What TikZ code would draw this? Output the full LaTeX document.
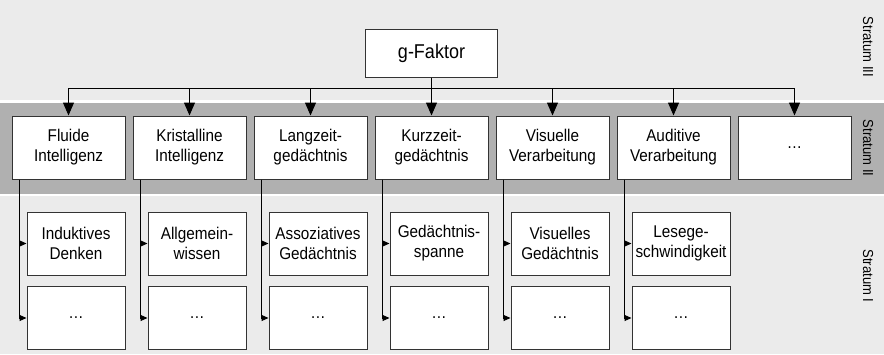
\documentclass[tikz,border=0pt]{standalone}
\usepackage{fontspec}
\setmainfont{Liberation Sans}[FakeStretch=0.9]
\usetikzlibrary{arrows.meta}

\definecolor{hellgrau}{HTML}{EBEBEB}
\definecolor{dunkelgrau}{HTML}{B0B0B0}

\tikzset{
  kasten/.style={draw=black!80, line width=1pt, fill=white, align=center,
    inner sep=0pt, font=\fontsize{17}{20}\selectfont},
  breitkasten/.style={kasten, minimum width=113pt, minimum height=63pt},
  schmalkasten/.style={kasten, minimum width=98pt, minimum height=63pt},
  grosspfeil/.style={line width=1pt, -{Triangle[width=11pt,length=13pt]}},
  kleinpfeil/.style={line width=1pt, -{Triangle[width=6pt,length=7pt]}},
  stratum/.style={rotate=-90, font=\fontsize{14.5}{16}\selectfont}
}

\begin{document}
\begin{tikzpicture}[x=1pt, y=-1pt]
        \def \p {121}

        \useasboundingbox (0,0) rectangle (884,354);

        % Hintergrund
        \fill[hellgrau] (0,0) rectangle (884,354);
        \fill[white] (0,100) rectangle (884,196);
        \fill[dunkelgrau] (0,102.5) rectangle (884,193.5);

        \node[stratum] (s3) at (868,47) {Stratum III};
        \node[stratum] (s2) at (868,148) {Stratum II};
        \node[stratum] (s1) at (868,276) {Stratum I};

        % Stratum III
        \node[kasten, font=\fontsize{20}{24}\selectfont, minimum width=132pt, minimum height=48pt] (gf) at (431.5,53) {g-Faktor};

        % Stratum II
        \node[breitkasten] (fi) at (68.5+0*\p,147.5) {Fluide\\Intelligenz};
        \node[breitkasten] (ki) at (68.5+1*\p,147.5) {Kristalline\\Intelligenz};
        \node[breitkasten] (lz) at (68.5+2*\p,147.5) {Langzeit-\\gedächtnis};
        \node[breitkasten] (kz) at (68.5+3*\p,147.5) {Kurzzeit-\\gedächtnis};
        \node[breitkasten] (vv) at (68.5+4*\p,147.5) {Visuelle\\Verarbeitung};
        \node[breitkasten] (av) at (68.5+5*\p,147.5) {Auditive\\Verarbeitung};
        \node[breitkasten] (wz) at (68.5+6*\p,147.5) {…};

        % Stratum I
        \node[schmalkasten] (id) at (76+0*\p,243.5) {Induktives\\Denken};
        \node[schmalkasten] (aw) at (76+1*\p,243.5) {Allgemein-\\wissen};
        \node[schmalkasten] (ag) at (76+2*\p,243.5) {Assoziatives\\Gedächtnis};
        \node[schmalkasten] (gs) at (76+3*\p,243.5) {Gedächtnis-\\spanne};
        \node[schmalkasten] (vg) at (76+4*\p,243.5) {Visuelles\\Gedächtnis};
        \node[schmalkasten] (lg) at (76+5*\p,243.5) {Lesege-\\schwindigkeit};

        \node[schmalkasten] (d1) at (76+0*\p,318) {…};
        \node[schmalkasten] (d2) at (76+1*\p,318) {…};
        \node[schmalkasten] (d3) at (76+2*\p,318) {…};
        \node[schmalkasten] (d4) at (76+3*\p,318) {…};
        \node[schmalkasten] (d5) at (76+4*\p,318) {…};
        \node[schmalkasten] (d6) at (76+5*\p,318) {…};

        % Verbindungen
        \coordinate (bus) at (431.5,88);
        \draw[grosspfeil] (gf) -- (kz);
        \draw[grosspfeil] (bus) -| (fi);
        \draw[grosspfeil] (bus) -| (ki);
        \draw[grosspfeil] (bus) -| (lz);
        \draw[grosspfeil] (bus) -| (vv);
        \draw[grosspfeil] (bus) -| (av);
        \draw[grosspfeil] (bus) -| (wz);

        \draw[kleinpfeil] ([xshift=8pt]fi.south west) |- (id);
        \draw[kleinpfeil] ([xshift=8pt]fi.south west) |- (d1);
        \draw[kleinpfeil] ([xshift=8pt]ki.south west) |- (aw);
        \draw[kleinpfeil] ([xshift=8pt]ki.south west) |- (d2);
        \draw[kleinpfeil] ([xshift=8pt]lz.south west) |- (ag);
        \draw[kleinpfeil] ([xshift=8pt]lz.south west) |- (d3);
        \draw[kleinpfeil] ([xshift=8pt]kz.south west) |- (gs);
        \draw[kleinpfeil] ([xshift=8pt]kz.south west) |- (d4);
        \draw[kleinpfeil] ([xshift=8pt]vv.south west) |- (vg);
        \draw[kleinpfeil] ([xshift=8pt]vv.south west) |- (d5);
        \draw[kleinpfeil] ([xshift=8pt]av.south west) |- (lg);
        \draw[kleinpfeil] ([xshift=8pt]av.south west) |- (d6);
    \end{tikzpicture}
\end{document}
